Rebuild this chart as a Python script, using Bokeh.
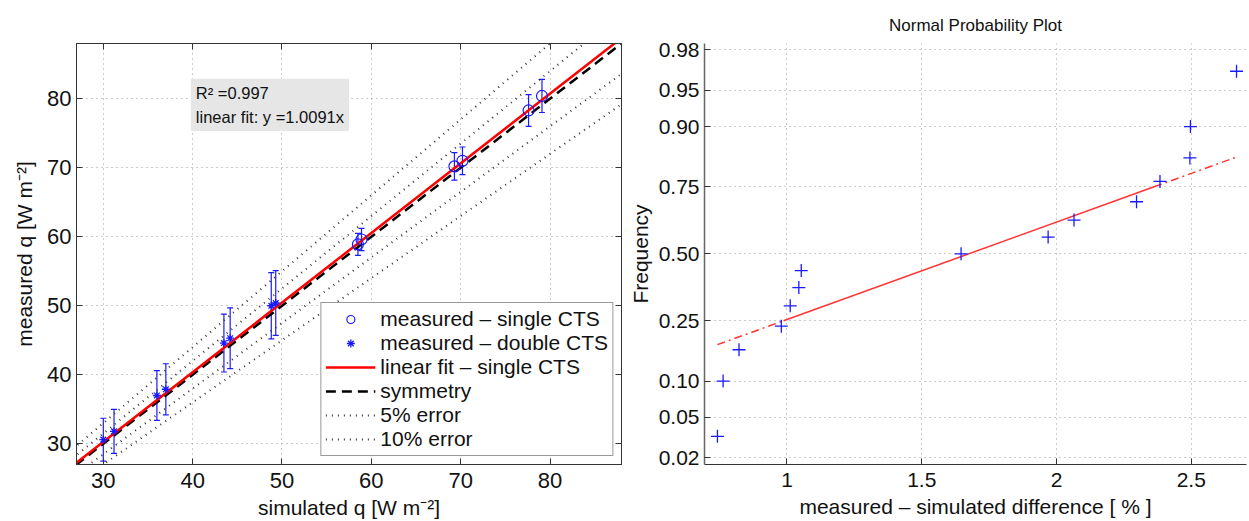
import numpy as np
from statistics import NormalDist
from bokeh.plotting import figure
from bokeh.layouts import row
from bokeh.models import (Range1d, ColumnDataSource, Whisker, TeeHead, Label, Legend,
                          LegendItem, FixedTicker, LinearAxis)
from bokeh.embed import file_html
from bokeh.resources import INLINE

# ---------------- data: left panel ----------------
single_sim = [58.5, 58.9, 69.3, 70.2, 77.6, 79.1]
single_meas = [58.9, 59.6, 70.2, 71.0, 78.3, 80.4]
single_err = [1.6, 1.6, 2.0, 2.0, 2.3, 2.4]

double_sim = [30.0, 31.2, 36.0, 37.0, 43.5, 44.2, 48.8, 49.3]
double_meas = [30.6, 31.8, 37.0, 37.9, 44.6, 45.3, 50.0, 50.4]
double_err = [3.1, 3.2, 3.6, 3.7, 4.2, 4.4, 4.8, 4.7]

fit_slope = 1.0091
r_squared = 0.997
error_levels = [0.05, 0.10]
xy_ticks = [30, 40, 50, 60, 70, 80]

# ---------------- data: right panel ----------------
diff_pct = [0.742, 0.763, 0.822, 0.979, 1.012, 1.044, 1.053, 1.646,
            1.969, 2.065, 2.297, 2.384, 2.495, 2.497, 2.668]
freq = [0.033, 0.100, 0.167, 0.233, 0.300, 0.367, 0.433, 0.500,
        0.567, 0.633, 0.700, 0.767, 0.833, 0.900, 0.967]
prob_ticks = [0.02, 0.05, 0.10, 0.25, 0.50, 0.75, 0.90, 0.95, 0.98]
prob_labels = ["0.02", "0.05", "0.10", "0.25", "0.50", "0.75", "0.90", "0.95", "0.98"]
diff_ticks = [1, 1.5, 2, 2.5]

FONT = "Liberation Sans"
BLUE = "#1a1aff"
TXT = "#111111"

def style_axes(p, fs="22px"):
    for ax in p.xaxis + p.yaxis:
        ax.major_label_text_font = FONT
        ax.major_label_text_font_size = fs
        ax.major_label_text_color = TXT
        ax.axis_label_text_font = FONT
        ax.axis_label_text_font_size = "21px"
        ax.axis_label_text_font_style = "normal"
        ax.axis_label_text_color = TXT
        ax.major_tick_in = 6
        ax.major_tick_out = 0
        ax.minor_tick_in = 0
        ax.minor_tick_out = 0
        ax.axis_line_color = "#333333"
        ax.major_tick_line_color = "#333333"
    for g in p.xgrid + p.ygrid:
        g.grid_line_dash = "1 4"
        g.grid_line_color = "#999999"

# ================= LEFT =================
p1 = figure(width=625, height=521, x_range=Range1d(27, 88), y_range=Range1d(27, 88),
            output_backend="svg", toolbar_location=None,
            min_border_left=76, min_border_right=4, min_border_top=43, min_border_bottom=57)
p1.outline_line_color = "#333333"
p1.xaxis.ticker = FixedTicker(ticks=xy_ticks)
p1.yaxis.ticker = FixedTicker(ticks=xy_ticks)
p1.xaxis.axis_label = "simulated q [W m\u207b\u00b2]"
p1.yaxis.axis_label = "measured q [W m\u207b\u00b2]"
p1.xaxis.major_label_standoff = 8
p1.yaxis.major_label_standoff = 5
p1.yaxis.axis_label_standoff = 8
p1.xaxis.axis_label_standoff = 5
style_axes(p1)

xl = np.array([0.0, 100.0])
err5 = p1.multi_line(xs=[list(xl), list(xl)],
                     ys=[list(xl * (1 + error_levels[0])), list(xl * (1 - error_levels[0]))],
                     line_color="#333333", line_width=2, line_dash="1 5")
err10 = p1.multi_line(xs=[list(xl), list(xl)],
                      ys=[list(xl * (1 + error_levels[1])), list(xl * (1 - error_levels[1]))],
                      line_color="#333333", line_width=2, line_dash="1 5")
sym = p1.line(xl, xl, line_color="black", line_width=2.5, line_dash="10 6")
fit = p1.line(xl, xl * fit_slope, line_color="red", line_width=2.5)

src_s = ColumnDataSource(dict(x=single_sim, y=single_meas,
                              lo=[m - e for m, e in zip(single_meas, single_err)],
                              hi=[m + e for m, e in zip(single_meas, single_err)]))
src_d = ColumnDataSource(dict(x=double_sim, y=double_meas,
                              lo=[m - e for m, e in zip(double_meas, double_err)],
                              hi=[m + e for m, e in zip(double_meas, double_err)]))
for src in (src_s, src_d):
    w = Whisker(base="x", lower="lo", upper="hi", source=src, line_color=BLUE, line_width=1.2,
                upper_head=TeeHead(size=6, line_color=BLUE, line_width=1.2),
                lower_head=TeeHead(size=6, line_color=BLUE, line_width=1.2))
    p1.add_layout(w)
circ = p1.scatter("x", "y", source=src_s, marker="circle", size=11, fill_color=None,
                  line_color=BLUE, line_width=1.2)
star = p1.scatter("x", "y", source=src_d, marker="asterisk", size=8,
                  line_color=BLUE, line_width=1.3)

lab = Label(x=39.8, y=82.9, text=f"R\u00b2 ={r_squared}\nlinear fit: y ={fit_slope}x",
            text_font=FONT, text_font_size="16.5px", text_align="left", text_baseline="top",
            text_color=TXT, background_fill_color="#e6e6e6", padding=5, text_line_height=1.35)
p1.add_layout(lab)

legend = Legend(items=[
    LegendItem(label="measured \u2013 single CTS", renderers=[circ]),
    LegendItem(label="measured \u2013 double CTS", renderers=[star]),
    LegendItem(label="linear fit \u2013 single CTS", renderers=[fit]),
    LegendItem(label="symmetry", renderers=[sym]),
    LegendItem(label="5% error", renderers=[err5]),
    LegendItem(label="10% error", renderers=[err10]),
], location="bottom_right")
legend.label_text_font = FONT
legend.label_text_font_size = "21px"
legend.label_text_color = TXT
legend.label_text_line_height = 1.0
legend.glyph_width = 50
legend.glyph_height = 20
legend.label_height = 20
legend.spacing = 0
legend.padding = 4
legend.margin = 8
legend.label_standoff = 5
legend.border_line_color = "#333333"
legend.border_line_width = 1
legend.background_fill_alpha = 1
p1.add_layout(legend)

# top / right tick marks (box style), no labels
for loc in ("above", "right"):
    ax = LinearAxis(ticker=FixedTicker(ticks=xy_ticks),
                    major_label_overrides={t: "" for t in xy_ticks},
                    major_label_text_font_size="0px",
                    major_label_standoff=0, major_tick_in=6, major_tick_out=0,
                    minor_tick_in=0, minor_tick_out=0, axis_line_color="#333333",
                    major_tick_line_color="#333333")
    p1.add_layout(ax, loc)

# ================= RIGHT =================
nd = NormalDist()
z_pts = [nd.inv_cdf(f) for f in freq]
z_ticks = [round(nd.inv_cdf(t), 6) for t in prob_ticks]

p2 = figure(width=624, height=521, x_range=Range1d(0.694, 2.705), y_range=Range1d(-2.122, 2.118),
            output_backend="svg", toolbar_location=None,
            min_border_left=78, min_border_right=3, min_border_top=43, min_border_bottom=57)
p2.outline_line_color = None
p2.title.text = "Normal Probability Plot"
p2.title.align = "center"
p2.title.text_font = FONT
p2.title.text_font_size = "17px"
p2.title.text_font_style = "normal"
p2.title.text_color = TXT
p2.title.standoff = 17
p2.xaxis.ticker = FixedTicker(ticks=diff_ticks)
p2.yaxis.ticker = FixedTicker(ticks=z_ticks)
p2.yaxis.major_label_overrides = {z: l for z, l in zip(z_ticks, prob_labels)}
p2.xaxis.axis_label = "measured \u2013 simulated difference [ % ]"
p2.yaxis.axis_label = "Frequency"
p2.xaxis.major_label_standoff = 8
p2.yaxis.major_label_standoff = 5
p2.yaxis.axis_label_standoff = 4
p2.xaxis.axis_label_standoff = 5

xs = np.array(diff_pct)
q1, q3 = np.percentile(xs, [25, 75], method="hazen")
z1, z3 = nd.inv_cdf(0.25), nd.inv_cdf(0.75)
slope = (z3 - z1) / (q3 - q1)
mid_x = (q1 + q3) / 2
fz = lambda x: (x - mid_x) * slope
p2.line([q1, q3], [fz(q1), fz(q3)], line_color="#ff3333", line_width=1.5)
p2.line([xs.min(), q1], [fz(xs.min()), fz(q1)], line_color="#ff3333", line_width=1.5,
        line_dash="8 4 2 4")
p2.line([q3, xs.max()], [fz(q3), fz(xs.max())], line_color="#ff3333", line_width=1.5,
        line_dash="8 4 2 4")
p2.scatter(diff_pct, z_pts, marker="cross", size=13, line_color=BLUE, line_width=1.3)
style_axes(p2, fs="21px")
p2.yaxis.axis_line_color = "#666666"
p2.yaxis.axis_line_width = 1.5

layout = row(p1, p2)
open("out.html", "w").write(file_html(layout, INLINE))
